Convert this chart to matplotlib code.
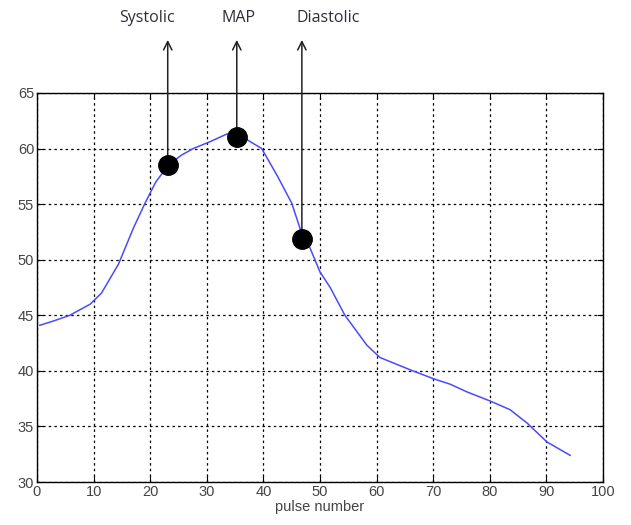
import matplotlib.pyplot as plt
import numpy as np

# curve
pulse = [0.5, 3, 5.8, 9.4, 11.4, 14.4, 17, 19.1, 21, 23.2, 25.5, 27.6, 30.5, 33.5, 35.3,
         37.1, 39.7, 42.4, 45.0, 47.0, 48.2, 50, 51.8, 54.4, 58.3, 60.6, 65.9, 70,
         73, 76, 80, 83.6, 86.6, 90.1, 94.2]
pressure = [44.1, 44.5, 45.0, 46.0, 47.0, 49.6, 52.8, 55.1, 57.0, 58.5, 59.4, 60.0, 60.6, 61.3, 61.3,
            60.8, 60.0, 57.6, 55.1, 52.0, 51.1, 48.9, 47.5, 45.0, 42.3, 41.2, 40.1, 39.3,
            38.8, 38.1, 37.3, 36.5, 35.3, 33.6, 32.4]

labels = ['Systolic', 'MAP', 'Diastolic']
point_x = [23.1, 35.3, 46.8]
point_y = [58.5, 61.0, 51.9]
label_x = [19.5, 35.6, 51.5]

xticks = list(range(0, 101, 10))
yticks = list(range(30, 66, 5))

plt.rcParams['font.family'] = ['Liberation Sans', 'DejaVu Sans']

fig = plt.figure(figsize=(6.31, 5.25), dpi=100)
ax = fig.add_axes([0.0586, 0.0819, 0.897, 0.741])
ax.set_xlim(0, 100)
ax.set_ylim(30, 65)

ax.plot(pulse, pressure, color='#4a4aff', lw=1.1)

for lab, px, py, lx in zip(labels, point_x, point_y, label_x):
    ax.annotate('', xy=(px, 0.924), xycoords=('data', 'figure fraction'),
                xytext=(px, py), textcoords='data', annotation_clip=False,
                arrowprops=dict(arrowstyle='->,head_length=0.6,head_width=0.3',
                                color='#222222', lw=1.1, shrinkA=0, shrinkB=0))
    ax.annotate(lab, xy=(lx, 0.966), xycoords=('data', 'figure fraction'),
                ha='center', va='center', fontsize=11.5, color='#2e2e3a',
                annotation_clip=False, family=['Open Sans', 'DejaVu Sans'])

ax.plot(point_x, point_y, 'o', color='black', ms=14, zorder=5)

ax.set_xticks(xticks)
ax.set_yticks(yticks)
ax.grid(True, color='black', linestyle=(0, (2, 2.5)), lw=0.9)
ax.tick_params(direction='in', length=4, labelsize=10.5, labelcolor='#444444', pad=2,
               top=True, right=True)
for s in ax.spines.values():
    s.set_linewidth(1.0)
ax.set_xlabel('pulse number', fontsize=10.5, color='#444444', labelpad=1)

fig.savefig('out.png', dpi=100)
